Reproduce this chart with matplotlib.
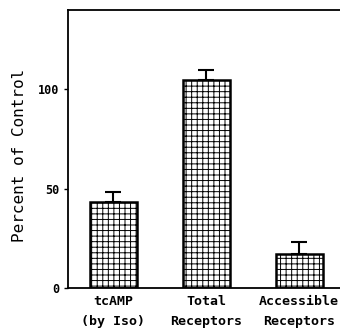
import matplotlib
matplotlib.use("Agg")
import matplotlib.pyplot as plt
import numpy as np

# data
categories = ["tcAMP\n(by Iso)", "Total\nReceptors", "Accessible\nReceptors"]
values = [43.5, 105, 17]
err_up = [5.0, 4.8, 6.0]
yticks = [0, 50, 100]

plt.rcParams['font.family'] = ['DejaVu Sans Mono']
plt.rcParams['hatch.linewidth'] = 0.7

fig = plt.figure(figsize=(3.4, 3.33), dpi=100)
ax = fig.add_axes([0.2, 0.135, 0.8, 0.835])

x = np.arange(len(categories))
ax.bar(x, values, width=0.505, color="white", edgecolor="black",
       linewidth=1.8, hatch="+++", zorder=2)
ax.errorbar(x, values, yerr=[[0] * len(values), err_up], fmt="none",
            ecolor="black", elinewidth=1.5, capsize=6, capthick=1.5, zorder=1)

ax.set_xlim(-0.484, 2.44)
ax.set_ylim(0, 140)
ax.set_xticks(x)
ax.set_xticklabels(categories, fontsize=9.5, fontweight="bold", linespacing=1.75)
ax.set_yticks(yticks)
ax.set_yticklabels([str(t) for t in yticks], fontsize=8.5, fontweight="bold")
ax.tick_params(axis="x", length=0, pad=5)
ax.tick_params(axis="y", length=3, width=1, pad=3)
ax.set_ylabel("Percent of Control", fontsize=11.5)
ax.yaxis.set_label_coords(-0.15, 0.478)

for s in ["left", "bottom", "top"]:
    ax.spines[s].set_linewidth(1.3)
ax.spines["right"].set_visible(False)

fig.savefig("out.png", dpi=100)
